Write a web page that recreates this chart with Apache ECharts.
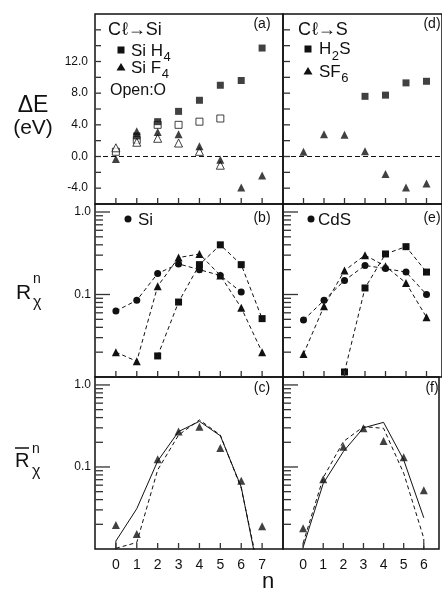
<!DOCTYPE html>
<html>
<head>
<meta charset="utf-8">
<script src="https://cdn.jsdelivr.net/npm/echarts@6/dist/echarts.min.js"></script>
<style>
html, body { margin: 0; padding: 0; background: #fff; }
#chart { width: 442px; height: 592px; }
</style>
</head>
<body>
<div id="chart"></div>
<script>
// (a) Cl -> Si, delta E in eV
const siH4FilledN = [1, 2, 3, 4, 5, 6, 7];
const siH4Filled = [2.6, 4.4, 5.7, 7.1, 9.0, 9.6, 13.7];
const siH4OpenN = [0, 1, 2, 3, 4, 5];
const siH4Open = [0.6, 2.1, 4.0, 4.0, 4.4, 4.8];
const siF4FilledN = [0, 1, 2, 3, 4, 5, 6, 7];
const siF4Filled = [-0.3, 3.2, 3.1, 2.8, 1.3, -0.4, -3.9, -2.4];
const siF4OpenN = [0, 1, 2, 3, 4, 5];
const siF4Open = [1.1, 1.8, 2.3, 1.7, 0.65, -1.1];

// (d) Cl -> S
const h2sN = [3, 4, 5, 6];
const h2s = [7.6, 7.75, 9.3, 9.5];
const sf6N = [0, 1, 2, 3, 4, 5, 6];
const sf6 = [0.6, 2.8, 2.75, 0.65, -2.2, -3.9, -3.4];

// (b) R_x^n, Si
const siCircN = [0, 1, 2, 3, 4, 5, 6];
const siCirc = [0.063, 0.085, 0.18, 0.235, 0.2, 0.17, 0.107];
const siTriN = [0, 1, 2, 3, 4, 5, 6, 7];
const siTri = [0.020, 0.0155, 0.126, 0.28, 0.31, 0.17, 0.069, 0.020];
const siSqN = [2, 3, 4, 5, 6, 7];
const siSq = [0.018, 0.081, 0.23, 0.40, 0.23, 0.051];

// (e) R_x^n, CdS
const cdsCircN = [0, 1, 2, 3, 4, 5, 6];
const cdsCirc = [0.049, 0.085, 0.148, 0.225, 0.206, 0.187, 0.1];
const cdsTriN = [0, 1, 2, 3, 4, 5, 6];
const cdsTri = [0.019, 0.072, 0.195, 0.30, 0.22, 0.138, 0.053];
const cdsSqN = [2, 3, 4, 5, 6];
const cdsSq = [0.0115, 0.12, 0.31, 0.38, 0.187];

// (c) averaged R, Si
const cTriN = [0, 1, 2, 3, 4, 5, 6, 7];
const cTri = [0.0196, 0.0152, 0.124, 0.27, 0.31, 0.17, 0.068, 0.019];
const cSolidN = [0, 0, 1, 2, 3, 4, 5, 6, 7];
const cSolid = [0.009, 0.0125, 0.031, 0.118, 0.27, 0.36, 0.24, 0.057, 0.003];
const cDashedN = [0, 1, 2, 3, 4, 5, 6, 7];
const cDashed = [0.0102, 0.012, 0.092, 0.245, 0.375, 0.245, 0.055, 0.0035];

// (f) averaged R, CdS
const fTriN = [0, 1, 2, 3, 4, 5, 6];
const fTri = [0.0179, 0.0707, 0.177, 0.296, 0.207, 0.131, 0.052];
const fSolidN = [0, 1, 2, 3, 4, 5, 6];
const fSolid = [0.0105, 0.063, 0.154, 0.30, 0.35, 0.122, 0.024];
const fDashedN = [0, 1, 2, 3, 4, 5, 6, 6];
const fDashed = [0.0118, 0.074, 0.204, 0.31, 0.296, 0.084, 0.0135, 0.0095];

// tick values
const nTicksLeft = [0, 1, 2, 3, 4, 5, 6, 7];
const nTicksRight = [0, 1, 2, 3, 4, 5, 6];
const eTicks = [-4, -2, 0, 2, 4, 6, 8, 10, 12, 14, 16];
const eLabels = [12, 8, 4, 0, -4];
const logMajor = [0.1, 1];
const logMinor = [0.02, 0.03, 0.04, 0.05, 0.06, 0.07, 0.08, 0.09, 0.2, 0.3, 0.4, 0.5, 0.6, 0.7, 0.8, 0.9];

const ink = '#111';
const tickInk = '#333';
const FONT = '"Liberation Sans", Arial, sans-serif';
const chart = echarts.init(document.getElementById('chart'));
const measure = document.createElement('canvas').getContext('2d');

function pairs(xs, ys) {
  return xs.map((x, i) => [x, ys[i]]);
}

function pts(idx, xs, ys, symbol, size, open) {
  return {
    type: 'scatter', xAxisIndex: idx, yAxisIndex: idx,
    data: pairs(xs, ys), symbol: symbol, symbolSize: size,
    itemStyle: open ? {color: '#fff', borderColor: ink, borderWidth: 1} : {color: ink},
    z: open ? 3 : 4
  };
}

function line(idx, xs, ys, dash, symbol, size) {
  return {
    type: 'line', xAxisIndex: idx, yAxisIndex: idx,
    data: pairs(xs, ys),
    symbol: symbol || 'none', symbolSize: size || 0, showSymbol: !!symbol,
    itemStyle: {color: ink},
    lineStyle: {color: ink, width: 1, type: dash ? [4, 3] : 'solid'}
  };
}

// ticks drawn inward from the left edge (y values) or up from the bottom edge (n values)
function yTicks(idx, values, len) {
  return {
    type: 'custom', xAxisIndex: idx, yAxisIndex: idx, silent: true, z: 6,
    data: values.map(v => [-1, v]),
    renderItem: (params, api) => {
      const p = api.coord([api.value(0), api.value(1)]);
      return {type: 'line', shape: {x1: p[0] + 0.5, y1: p[1], x2: p[0] + len, y2: p[1]},
        style: {stroke: tickInk, lineWidth: 1.3}};
    }
  };
}
function xTicks(idx, values, bottom) {
  return {
    type: 'custom', xAxisIndex: idx, yAxisIndex: idx, silent: true, z: 6,
    data: values.map(v => [v, bottom]),
    renderItem: (params, api) => {
      const p = api.coord([api.value(0), api.value(1)]);
      return {type: 'line', shape: {x1: p[0], y1: p[1] - 0.5, x2: p[0], y2: p[1] - 6},
        style: {stroke: tickInk, lineWidth: 1.3}};
    }
  };
}

const rightMax = -1 + 162 / (188 / 9);
const grids = [
  {left: 95, top: 14, width: 188, height: 190},
  {left: 283, top: 14, width: 162, height: 190},
  {left: 95, top: 204, width: 188, height: 173},
  {left: 283, top: 204, width: 162, height: 173},
  {left: 95, top: 377, width: 188, height: 172},
  {left: 283, top: 377, width: 162, height: 172}
].map(g => Object.assign({show: true, borderColor: ink, borderWidth: 1.5}, g));

const xAxes = grids.map((g, i) => {
  const right = i % 2 === 1;
  const maxLabel = right ? 6 : 7;
  return {
    type: 'value', gridIndex: i, min: -1, max: right ? rightMax : 8, interval: 1,
    axisLine: {show: false, onZero: false}, splitLine: {show: false}, axisTick: {show: false},
    axisLabel: {
      show: i >= 4, margin: 9, color: ink, fontSize: 14, fontFamily: FONT,
      formatter: v => (Number.isInteger(v) && v >= 0 && v <= maxLabel) ? String(v) : ''
    }
  };
});

const yAxes = grids.map((g, i) => {
  if (i < 2) {
    return {
      type: 'value', gridIndex: i, min: -6, max: 18, interval: 2,
      axisLine: {show: false, onZero: false}, splitLine: {show: false}, axisTick: {show: false},
      axisLabel: {
        show: i === 0, margin: 7, color: ink, fontSize: 12, fontFamily: FONT,
        formatter: v => eLabels.indexOf(v) >= 0 ? v.toFixed(1) : ''
      }
    };
  }
  return {
    type: 'log', logBase: 10, gridIndex: i, min: 0.01, max: 1.25,
    axisLine: {show: false, onZero: false}, splitLine: {show: false}, axisTick: {show: false},
    axisLabel: {
      show: i % 2 === 0, margin: 4, color: ink, fontSize: 12, fontFamily: FONT,
      formatter: v => Math.abs(v - 1) < 1e-6 ? '1.0' : (Math.abs(v - 0.1) < 1e-7 ? '0.1' : '')
    }
  };
});

const zeroLine = {
  silent: true, symbol: ['none', 'none'], label: {show: false},
  lineStyle: {color: ink, width: 1, type: [5, 3]},
  data: [{yAxis: 0}]
};

const series = [
  Object.assign(pts(0, siH4OpenN, siH4Open, 'rect', 7, true), {markLine: zeroLine}),
  pts(0, siF4OpenN, siF4Open, 'triangle', 8, true),
  pts(0, siH4FilledN, siH4Filled, 'rect', 7, false),
  pts(0, siF4FilledN, siF4Filled, 'triangle', 8, false),

  Object.assign(pts(1, h2sN, h2s, 'rect', 7, false), {markLine: zeroLine}),
  pts(1, sf6N, sf6, 'triangle', 8, false),

  line(2, siCircN, siCirc, true, 'circle', 7),
  line(2, siTriN, siTri, true, 'triangle', 8),
  line(2, siSqN, siSq, true, 'rect', 7),

  line(3, cdsCircN, cdsCirc, true, 'circle', 7),
  line(3, cdsTriN, cdsTri, true, 'triangle', 8),
  line(3, cdsSqN, cdsSq, true, 'rect', 7),

  line(4, cSolidN, cSolid, false),
  line(4, cDashedN, cDashed, true),
  pts(4, cTriN, cTri, 'triangle', 8, false),

  line(5, fSolidN, fSolid, false),
  line(5, fDashedN, fDashed, true),
  pts(5, fTriN, fTri, 'triangle', 8, false),

  // tick marks
  yTicks(0, eTicks, 6), yTicks(1, eTicks, 7),
  xTicks(0, nTicksLeft, -6), xTicks(1, nTicksRight, -6)
];
[2, 3, 4, 5].forEach(i => {
  series.push(yTicks(i, logMajor, 15), yTicks(i, logMinor, 8),
    xTicks(i, i % 2 ? nTicksRight : nTicksLeft, 0.01));
});

function txt(x, y, s, size, align) {
  return {
    type: 'text', silent: true, z: 10,
    style: {text: s, x: x, y: y, font: size + 'px ' + FONT, fill: ink,
      textAlign: align || 'left', textVerticalAlign: 'middle'}
  };
}
function width(s, size) {
  measure.font = size + 'px ' + FONT;
  return measure.measureText(s).width;
}
// main text followed by a lowered subscript
function withSub(x, y, s, size, sub, subSize) {
  return [txt(x, y, s, size), txt(x + width(s, size) + 0.5, y + size * 0.38, sub, subSize)];
}
// "Cl -> X" heading with a script l
function heading(x, y, target) {
  const w = width('C', 18);
  return [txt(x, y, 'C', 18), txt(x + w + 1, y, 'ℓ→' + target, 18)];
}
function sq(cx, cy) {
  return {type: 'rect', silent: true, shape: {x: cx - 3.5, y: cy - 3.5, width: 7, height: 7}, style: {fill: ink}};
}
function tri(cx, cy) {
  return {type: 'polygon', silent: true, shape: {points: [[cx, cy - 4], [cx + 4.5, cy + 3.5], [cx - 4.5, cy + 3.5]]}, style: {fill: ink}};
}
function dot(cx, cy) {
  return {type: 'circle', silent: true, shape: {cx: cx, cy: cy, r: 3.5}, style: {fill: ink}};
}

const hW = width('H', 17);

const graphic = [
  // axis titles
  txt(33, 106, 'ΔE', 23, 'center'),
  txt(33, 128, '(eV)', 21, 'center'),
  txt(16, 293, 'R', 21),
  txt(33, 279, 'n', 14),
  txt(33, 303, 'χ', 16),
  txt(15, 461, 'R', 20),
  {type: 'line', silent: true, shape: {x1: 15, y1: 448, x2: 29, y2: 448}, style: {stroke: ink, lineWidth: 1.5}},
  txt(32, 449, 'n', 14),
  txt(32, 472, 'χ', 16),
  txt(268, 582, 'n', 22, 'center'),

  // panel (a) legend
  ...heading(108, 30, 'Si'),
  sq(121, 50), ...withSub(131, 51, 'Si H', 17, '4', 13),
  tri(121, 67), ...withSub(131, 68, 'Si F', 17, '4', 13),
  txt(110, 91, 'Open:O', 16),

  // panel (d) legend
  ...heading(298, 30, 'S'),
  sq(308, 49), txt(319, 49, 'H', 17), txt(319 + hW + 0.5, 56, '2', 13), txt(319 + hW + 8, 49, 'S', 17),
  tri(308, 71), ...withSub(319, 72, 'SF', 17, '6', 13),

  // panels (b), (e)
  dot(128, 219), txt(138, 220, 'Si', 17),
  dot(311, 219), txt(318, 220, 'CdS', 17),

  // panel letters
  txt(262, 24, '(a)', 14, 'center'),
  txt(432, 24, '(d)', 14, 'center'),
  txt(262, 218, '(b)', 14, 'center'),
  txt(432, 218, '(e)', 14, 'center'),
  txt(262, 388, '(c)', 14, 'center'),
  txt(432, 388, '(f)', 14, 'center')
];

chart.setOption({
  animation: false,
  grid: grids,
  xAxis: xAxes,
  yAxis: yAxes,
  series: series,
  graphic: graphic
});
</script>
</body>
</html>
